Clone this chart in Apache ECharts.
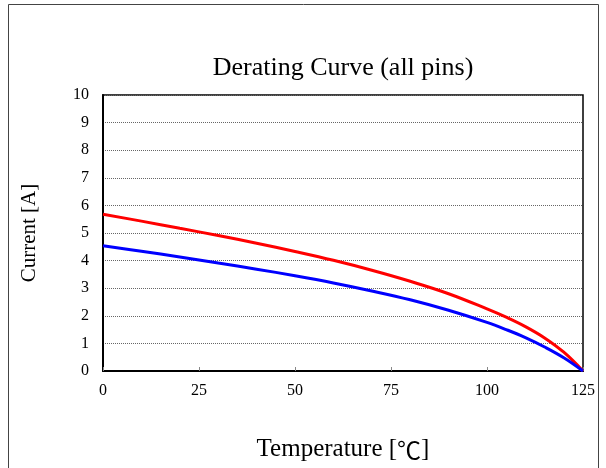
<!DOCTYPE html>
<html lang="en">
<head>
    <meta charset="UTF-8">
    <title>Derating Curve</title>
    <script src="https://cdn.jsdelivr.net/npm/echarts@6/dist/echarts.min.js"></script>
    <style>
        html, body { margin: 0; padding: 0; background: #fff; }
        #main { width: 606px; height: 468px; }
    </style>
</head>
<body>
<div id="main"></div>
<script type="text/javascript">
    // temperature points [°C]
    var temps = [0, 10, 20, 30, 40, 50, 60, 70, 80, 90, 100, 105, 110, 115, 120, 125];
    // red curve (upper)
    var redVals = [5.68, 5.43, 5.17, 4.91, 4.63, 4.33, 4.01, 3.65, 3.25, 2.80, 2.25, 1.95, 1.61, 1.20, 0.68, 0];
    // blue curve (lower)
    var blueVals = [4.54, 4.34, 4.13, 3.91, 3.69, 3.45, 3.19, 2.90, 2.58, 2.20, 1.76, 1.50, 1.21, 0.87, 0.48, 0];

    var font = '"Liberation Serif", "DejaVu Serif", serif';
    var cjk = '"Noto Sans CJK JP", "Noto Sans CJK SC", sans-serif';

    function pairs(xs, ys) {
        var out = [];
        for (var i = 0; i < xs.length; i++) {
            out.push([xs[i], ys[i]]);
        }
        return out;
    }

    var myChart = echarts.init(document.getElementById('main'));
    var option = {
        backgroundColor: '#fff',
        animation: false,
        title: {
            text: 'Derating Curve (all pins)',
            left: 338,
            top: 50,
            textAlign: 'center',
            textStyle: { fontFamily: font, fontSize: 26, fontWeight: 'normal', color: '#000' }
        },
        graphic: [{
            type: 'rect',
            shape: { x: 8.5, y: 4.5, width: 590, height: 480 },
            style: { fill: 'none', stroke: '#444', lineWidth: 1 },
            silent: true
        }],
        grid: {
            left: 103,
            right: 23,
            top: 95,
            bottom: 97,
            show: true,
            borderColor: '#000',
            borderWidth: 1.5
        },
        xAxis: {
            type: 'value',
            min: 0,
            max: 125,
            interval: 25,
            name: '{a|Temperature [}{b|\u2103}{a|]}',
            nameLocation: 'middle',
            nameGap: 66,
            nameTextStyle: {
                color: '#000',
                rich: {
                    a: { fontFamily: font, fontSize: 25, color: '#000' },
                    b: { fontFamily: cjk, fontSize: 24, color: '#000' }
                }
            },
            axisLine: { lineStyle: { color: '#000', width: 2 } },
            axisTick: { inside: true, length: 4, lineStyle: { color: '#888' } },
            axisLabel: { fontFamily: font, fontSize: 16, color: '#000', margin: 12 },
            splitLine: { show: false }
        },
        yAxis: {
            type: 'value',
            min: 0,
            max: 10,
            interval: 1,
            name: 'Current [A]',
            nameLocation: 'middle',
            nameGap: 63,
            nameTextStyle: { fontFamily: font, fontSize: 21, color: '#000' },
            axisLine: { show: true, lineStyle: { color: '#000', width: 2 } },
            axisTick: { show: false },
            axisLabel: { fontFamily: font, fontSize: 16, color: '#000', margin: 14 },
            splitLine: { lineStyle: { color: '#666', type: 'dotted', width: 1 } }
        },
        series: [{
            name: 'red',
            type: 'line',
            smooth: 0.4,
            symbol: 'none',
            data: pairs(temps, redVals),
            lineStyle: { color: '#ff0000', width: 3 }
        }, {
            name: 'blue',
            type: 'line',
            smooth: 0.4,
            symbol: 'none',
            data: pairs(temps, blueVals),
            lineStyle: { color: '#0000ff', width: 3 }
        }]
    };
    myChart.setOption(option);
</script>
</body>
</html>
